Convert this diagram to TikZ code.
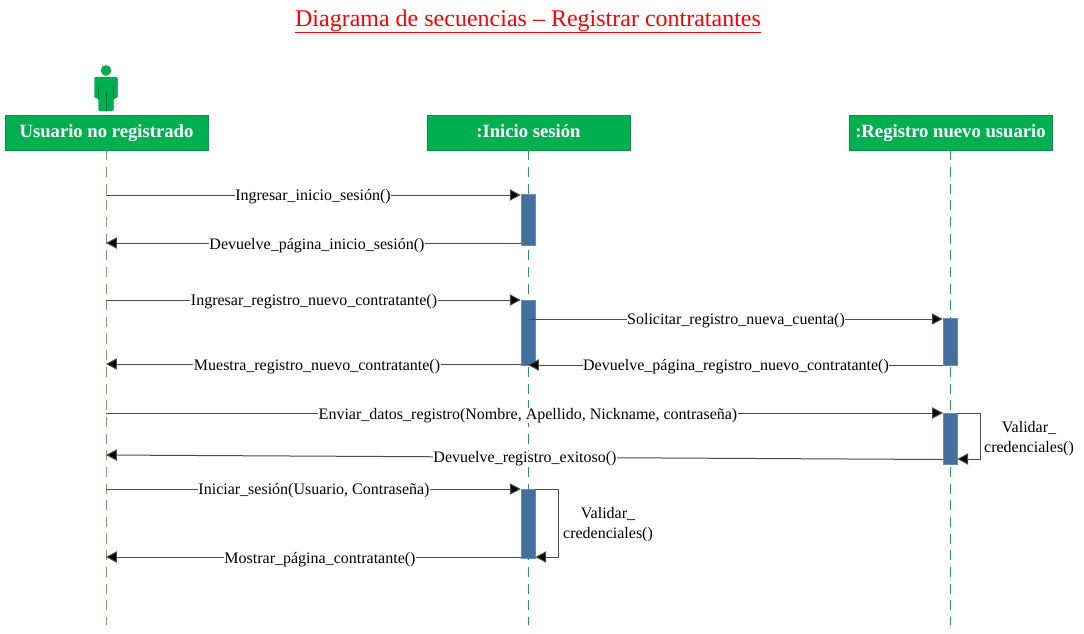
\documentclass[tikz,border=0pt]{standalone}
\usepackage{fontspec}
\setmainfont{Liberation Serif}
\usetikzlibrary{arrows.meta,shadows}
\definecolor{hdrgreen}{HTML}{00B050}
\definecolor{barblue}{HTML}{44709D}
\definecolor{lifeA}{HTML}{70AD47}
\tikzset{
  x=0.75pt,y=-0.75pt,
  header/.style={fill=hdrgreen,draw=hdrgreen!85!black,line width=0.3pt,minimum width=152.25pt,minimum height=26.25pt,inner sep=0pt,text height=8pt,text depth=0pt,text=white,font=\fontsize{14}{16}\selectfont\bfseries,drop shadow={shadow xshift=0.8pt,shadow yshift=-0.8pt,opacity=0.25,fill=black}},
  lifeline/.style={draw=hdrgreen,line width=0.7pt,dash pattern=on 7.5pt off 5pt},
  activation/.style={fill=barblue,draw=barblue!80!white,line width=0.4pt,minimum width=10.5pt,inner sep=0pt},
  msg/.style={draw=black!70,line width=0.75pt,-{Triangle[length=8.2pt,width=8.5pt,fill=black]}},
  msglabel/.style={fill=white,inner sep=0.4pt,text height=8pt,text depth=2.5pt,font=\fontsize{12}{13}\selectfont},
  selfnote/.style={align=center,inner sep=0pt,font=\fontsize{12}{15}\selectfont},
}
\begin{document}
\begin{tikzpicture}
\useasboundingbox (0,0) rectangle (1084,633);
\node[text=red,inner sep=0pt,font=\fontsize{18}{22}\selectfont] (title) at (528,21) {Diagrama de secuencias – Registrar contratantes};
\draw[red,line width=0.9pt] ([yshift=-0.1pt]title.south west) -- ([yshift=-0.1pt]title.south east);
% actor
\node[circle,fill=hdrgreen,draw=hdrgreen!80!black,line width=0.3pt,minimum size=7.5pt,inner sep=0pt] (head) at (106,70.5) {};
\fill[hdrgreen,draw=hdrgreen!80!black,line width=0.3pt,rounded corners=1.5pt] (94.5,98) -- (94.5,77) -- (117.5,77) -- (117.5,98) -- (113.5,98) -- (113.5,111) -- (98.5,111) -- (98.5,98) -- cycle;
\draw[hdrgreen!60!black,line width=0.3pt] (106,92) -- (106,111) (98.5,87) -- (98.5,98) (113.5,87) -- (113.5,98);
% lifeline ends
\coordinate (endA) at (106,625);
\coordinate (endB) at (528,625);
\coordinate (endC) at (950,625);
% headers
\node[header] (usuario) at (106.5,132.5) {Usuario no registrado};
\node[header] (inicio) at (528.5,132.5) {:Inicio sesión};
\node[header] (registro) at (950.5,132.5) {:Registro nuevo usuario};
\draw[lifeline,draw=lifeA] (usuario.south -| endA) -- (endA);
\draw[lifeline] (inicio.south -| endB) -- (endB);
\draw[lifeline] (registro.south -| endC) -- (endC);
% activations
\node[activation,minimum height=38.25pt] (b1) at (528,219.5) {};
\node[activation,minimum height=48.75pt] (b2) at (528,332.5) {};
\node[activation,minimum height=35.25pt] (c1) at (950,342) {};
\node[activation,minimum height=38.25pt] (c2) at (950,438.5) {};
\node[activation,minimum height=51.75pt] (b3) at (528,523.5) {};
% messages
\coordinate (m1) at (106,195);  \coordinate (m2) at (106,243);
\coordinate (m3) at (106,300);  \coordinate (m4) at (106,364);
\coordinate (m5) at (106,413);  \coordinate (m6) at (106,455);
\coordinate (m7) at (106,489);  \coordinate (m8) at (106,557);
\coordinate (s5) at (528,319);  \coordinate (s6) at (528,365);
\coordinate (t1) at (943,413);  \coordinate (t2) at (943,459.5);
\coordinate (r1) at (980.5,413); \coordinate (r2) at (980.5,459);
\coordinate (q1) at (558,489); \coordinate (q2) at (558,557);
\draw[msg] (m1) -- (m1 -| b1.west);
\node[msglabel] (l1) at (313,196.7) {Ingresar\_inicio\_sesión()};
\draw[msg] (m2 -| b1.west) -- (m2);
\node[msglabel] (l2) at (317,245.7) {Devuelve\_página\_inicio\_sesión()};
\draw[msg] (m3) -- (m3 -| b2.west);
\node[msglabel] (l3) at (314,301.7) {Ingresar\_registro\_nuevo\_contratante()};
\draw[msg] (m4 -| b2.west) -- (m4);
\node[msglabel] (l4) at (317,366.7) {Muestra\_registro\_nuevo\_contratante()};
\draw[msg] (s5) -- (s5 -| c1.west);
\node[msglabel] (l5) at (736,320.7) {Solicitar\_registro\_nueva\_cuenta()};
\draw[msg] (s6 -| c1.west) -- (s6);
\node[msglabel] (l6) at (736,366.7) {Devuelve\_página\_registro\_nuevo\_contratante()};
\draw[msg] (m5) -- (t1);
\node[msglabel] (l7) at (528,415.7) {Enviar\_datos\_registro(Nombre, Apellido, Nickname, contraseña)};
\draw[msg] (t2) -- (m6);
\node[msglabel] (l8) at (525,458.7) {Devuelve\_registro\_exitoso()};
\draw[msg] (m7) -- (m7 -| b3.west);
\node[msglabel] (l9) at (314,490.7) {Iniciar\_sesión(Usuario, Contraseña)};
\draw[msg] (m8 -| b3.west) -- (m8);
\node[msglabel] (l10) at (320,559.7) {Mostrar\_página\_contratante()};
% self messages
\draw[msg] (c2.east |- r1) -- (r1) -- (r2) -- (c2.east |- r2);
\node[selfnote] (n1) at (1029,438.5) {Validar\_\\credenciales()};
\draw[msg] (b3.east |- q1) -- (q1) -- (q2) -- (b3.east |- q2);
\node[selfnote] (n2) at (608,525) {Validar\_\\credenciales()};
\end{tikzpicture}
\end{document}
